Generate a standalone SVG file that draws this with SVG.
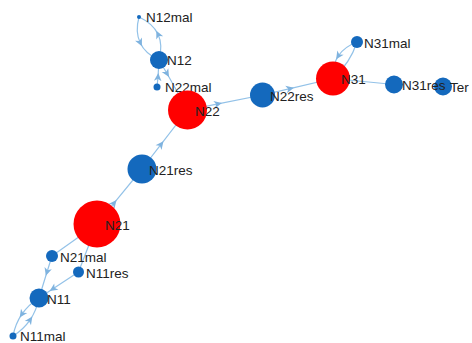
<svg xmlns="http://www.w3.org/2000/svg" width="472" height="343" viewBox="0 0 472 343">
<style>
.e{fill:none;stroke:#93c2e8;stroke-width:1.2}
.b{fill:#1469bd}
.r{fill:#ff0000}
text{font-family:"Liberation Sans",Arial,sans-serif;font-size:13.5px;fill:#222}
</style>
<defs>
<marker id="arr" viewBox="-6 -6 12 12" markerWidth="12" markerHeight="12" refX="0" refY="0" orient="auto" markerUnits="userSpaceOnUse">
<path d="M4,0 L-4,-3.8 L-1.8,0 L-4,3.8 Z" fill="#7fb3df"/>
</marker>
</defs>
<rect width="472" height="343" fill="#ffffff"/>
<g id="edges">
<path class="e" marker-mid="url(#arr)" d="M139,17 Q134.95,31.95 140.2,42.7 Q144.95,53.45 159,60"/>
<path class="e" marker-mid="url(#arr)" d="M159,60 Q163.05,45.05 158.05,34.3 Q153.05,23.55 139,17"/>
<polyline class="e" marker-mid="url(#arr)" points="159,60 167,73.5 187.5,110"/>
<polyline class="e" marker-mid="url(#arr)" points="157,87 158,77 159,60"/>
<polyline class="e" marker-mid="url(#arr)" points="187.5,110 218,103.9 262.5,95"/>
<polyline class="e" marker-mid="url(#arr)" points="262.5,95 290,88.6 333,78.5"/>
<path class="e" marker-mid="url(#arr)" d="M357,42 Q344.3,46.75 338.3,55.9 Q332.3,65 333,78.5"/>
<path class="e" d="M333,78.5 Q350,63.5 357,42"/>
<line class="e" x1="333" y1="78.5" x2="394" y2="84.5"/>
<polyline class="e" marker-mid="url(#arr)" points="97,224 114,203.2 142,169"/>
<polyline class="e" marker-mid="url(#arr)" points="142,169 161,144.4 187.5,110"/>
<line class="e" x1="97" y1="224" x2="52" y2="256"/>
<line class="e" x1="97" y1="224" x2="78.5" y2="272"/>
<polyline class="e" marker-mid="url(#arr)" points="52,256 47,272 39,298"/>
<polyline class="e" marker-mid="url(#arr)" points="78.5,272 53,288.8 39,298"/>
<path class="e" marker-mid="url(#arr)" d="M39,298 Q28.4,304.7 21.9,314.2 Q15.4,323.7 13,336"/>
<path class="e" marker-mid="url(#arr)" d="M13,336 Q23.6,329.3 30.1,319.8 Q36.6,310.3 39,298"/>
</g>
<g id="N12mal"><circle class="b" cx="139" cy="17" r="2"/><text x="146" y="22">N12mal</text></g>
<g id="N12"><circle class="b" cx="159" cy="60" r="9"/><text x="167" y="65">N12</text></g>
<g id="N22mal"><circle class="b" cx="157" cy="87" r="3.5"/><text x="165" y="92">N22mal</text></g>
<g id="N22"><circle class="r" cx="187.5" cy="110" r="19.5"/><text x="195" y="115.5">N22</text></g>
<g id="N22res"><circle class="b" cx="262.5" cy="95" r="12.5"/><text x="270" y="100.5">N22res</text></g>
<g id="N31"><circle class="r" cx="333" cy="78.5" r="17"/><text x="341" y="84">N31</text></g>
<g id="N31mal"><circle class="b" cx="357" cy="42" r="6"/><text x="364" y="47.5">N31mal</text></g>
<g id="Ter"><circle class="b" cx="443" cy="86.5" r="9"/><text x="450" y="92">Ter</text></g>
<g id="N31res"><circle class="b" cx="394" cy="84.5" r="9"/><text x="402" y="90">N31res</text></g>
<g id="N21res"><circle class="b" cx="142" cy="169" r="14.5"/><text x="149" y="175">N21res</text></g>
<g id="N21"><circle class="r" cx="97" cy="224" r="23.5"/><text x="105" y="229.5">N21</text></g>
<g id="N21mal"><circle class="b" cx="52" cy="256" r="6"/><text x="60" y="261.5">N21mal</text></g>
<g id="N11res"><circle class="b" cx="78.5" cy="272" r="5.5"/><text x="86" y="277.5">N11res</text></g>
<g id="N11"><circle class="b" cx="39" cy="298" r="9.5"/><text x="47" y="303.5">N11</text></g>
<g id="N11mal"><circle class="b" cx="13" cy="336" r="3.5"/><text x="20" y="341">N11mal</text></g>
</svg>
